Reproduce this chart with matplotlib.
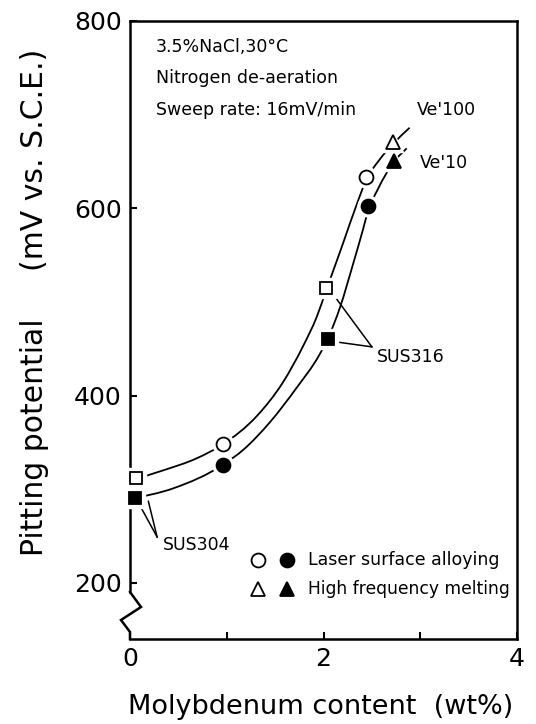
import numpy as np
import matplotlib
matplotlib.use("Agg")
import matplotlib.pyplot as plt
from matplotlib.path import Path
from matplotlib.patches import PathPatch

# ---- data ----
# marker points (Mo wt%, pitting potential mV)
open_sq_x = [0.06, 2.03]
open_sq_y = [312, 515]
open_ci_x = [0.96, 2.44]
open_ci_y = [348, 633]
open_tri_x = [2.72]
open_tri_y = [671]

fill_sq_x = [0.05, 2.05]
fill_sq_y = [291, 460]
fill_ci_x = [0.96, 2.46]
fill_ci_y = [326, 602]
fill_tri_x = [2.73]
fill_tri_y = [651]

# hand-drawn curve traces
upper_x = [0.0, 0.34, 0.69, 0.96, 1.31, 1.58, 1.79, 1.93, 2.03, 2.20, 2.35, 2.44, 2.58, 2.72, 2.89]
upper_y = [309, 320, 333, 348, 378, 414, 453, 484, 513, 562, 606, 630, 652, 669, 686]
lower_x = [0.0, 0.45, 0.96, 1.17, 1.45, 1.72, 1.96, 2.05, 2.17, 2.31, 2.41, 2.46, 2.56, 2.73, 2.86]
lower_y = [289, 301, 326, 342, 372, 408, 444, 462, 494, 542, 578, 597, 620, 650, 664]

x_ticks = [0, 1, 2, 3, 4]
x_ticklabels = ["0", "", "2", "", "4"]
y_ticks = [200, 400, 600, 800]
y_ticklabels = ["200", "400", "600", "800"]

FONT = "DejaVu Sans"
plt.rcParams['font.family'] = [FONT]

fig = plt.figure(figsize=(5.36, 7.24), dpi=100)
ax = fig.add_axes([130/536, 1-639/724, 387/536, 618/724])
ax.set_xlim(0, 4)
ax.set_ylim(140, 800)


def hermite_path(xs, ys):
    x = np.asarray(xs, float)
    y = np.asarray(ys, float)
    n = len(x)
    sec = np.diff(y) / np.diff(x)
    m = np.empty(n)
    m[0] = sec[0]
    m[-1] = sec[-1]
    for i in range(1, n - 1):
        h0, h1 = x[i] - x[i - 1], x[i + 1] - x[i]
        m[i] = (sec[i - 1] * h1 + sec[i] * h0) / (h0 + h1)
    verts = [(x[0], y[0])]
    codes = [Path.MOVETO]
    for i in range(n - 1):
        h = x[i + 1] - x[i]
        verts += [(x[i] + h / 3, y[i] + m[i] * h / 3),
                  (x[i + 1] - h / 3, y[i + 1] - m[i + 1] * h / 3),
                  (x[i + 1], y[i + 1])]
        codes += [Path.CURVE4] * 3
    return Path(verts, codes)


for xs, ys in [(upper_x, upper_y), (lower_x, lower_y)]:
    ax.add_patch(PathPatch(hermite_path(xs, ys), fill=False, lw=1.3,
                           edgecolor="black", zorder=2, clip_on=False))

# white halos then markers
def mk(x, y, m, ms, face):
    ax.plot(x, y, ls="none", marker=m, ms=ms + 5, mfc="white", mec="white",
            zorder=3, clip_on=False)
    ax.plot(x, y, ls="none", marker=m, ms=ms, mfc=face, mec="black", mew=1.3,
            zorder=4, clip_on=False)

mk(open_sq_x, open_sq_y, "s", 9, "white")
mk(fill_sq_x, fill_sq_y, "s", 9, "black")
mk(open_ci_x, open_ci_y, "o", 10, "white")
mk(fill_ci_x, fill_ci_y, "o", 10, "black")
mk(open_tri_x, open_tri_y, "^", 10, "white")
mk(fill_tri_x, fill_tri_y, "^", 10, "black")

# leader lines
ax.plot([2.50, 2.10], [452, 508], color="black", lw=1.1, zorder=2)
ax.plot([2.50, 2.15], [452, 457], color="black", lw=1.1, zorder=2)
ax.plot([0.28, 0.10], [249, 283], color="black", lw=1.1, zorder=2, clip_on=False)
ax.plot([0.28, 0.19], [249, 287], color="black", lw=1.1, zorder=2, clip_on=False)

tfs = 12.5
ax.text(0.27, 772, "3.5%NaCl,30°C", fontsize=tfs, va="center", ha="left")
ax.text(0.27, 739, "Nitrogen de-aeration", fontsize=tfs, va="center", ha="left")
ax.text(0.27, 705, "Sweep rate: 16mV/min", fontsize=tfs, va="center", ha="left")
ax.text(2.97, 705, "Ve'100", fontsize=tfs, va="center", ha="left")
ax.text(3.00, 648, "Ve'10", fontsize=tfs, va="center", ha="left")
ax.text(2.55, 441, "SUS316", fontsize=tfs, va="center", ha="left")
ax.text(0.34, 240, "SUS304", fontsize=tfs, va="center", ha="left")

# legend drawn by hand
ax.plot([1.32], [224], ls="none", marker="o", ms=10, mfc="white", mec="black", mew=1.3)
ax.plot([1.62], [224], ls="none", marker="o", ms=10, mfc="black", mec="black", mew=1.3)
ax.plot([1.32], [193], ls="none", marker="^", ms=10, mfc="white", mec="black", mew=1.3)
ax.plot([1.62], [193], ls="none", marker="^", ms=10, mfc="black", mec="black", mew=1.3)
ax.text(1.84, 224, "Laser surface alloying", fontsize=tfs, va="center", ha="left")
ax.text(1.84, 193, "High frequency melting", fontsize=12.3, va="center", ha="left")

# axes styling
for s in ["top", "right", "bottom", "left"]:
    ax.spines[s].set_linewidth(1.8)
ax.spines["left"].set_bounds(190, 800)
# axis break zigzag on the left spine (axes fraction coords)
zx = [0.0, 11/387, -9/387, 0.0, 0.0]
zy = [(639-592)/618, (639-607)/618, (639-620)/618, (639-632)/618, 0.0]
ax.plot(zx, zy, transform=ax.transAxes, color="black", lw=1.8, clip_on=False,
        solid_joinstyle="miter")

ax.set_xticks(x_ticks)
ax.set_xticklabels(x_ticklabels, fontsize=18)
ax.set_yticks(y_ticks)
ax.set_yticklabels(y_ticklabels, fontsize=18)
ax.tick_params(direction="in", length=5, width=1.5, pad=6)

fig.text(35/536, 1-302/724, "Pitting potential     (mV vs. S.C.E.)", rotation=90,
         fontsize=21.5, ha="center", va="center")
fig.text(321/536, 1-707/724, "Molybdenum content  (wt%)", fontsize=19.5,
         ha="center", va="center")

fig.savefig("out.png", dpi=100)
